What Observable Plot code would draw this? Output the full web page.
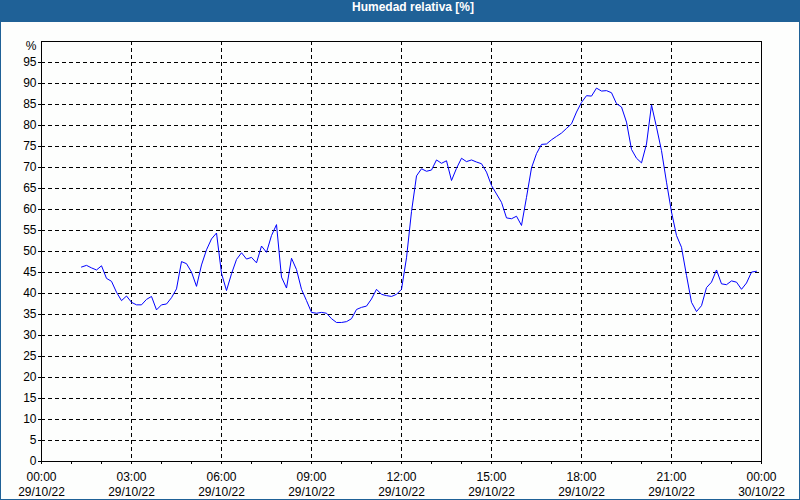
<!DOCTYPE html>
<html>
<head>
<meta charset="utf-8">
<script src="https://cdn.jsdelivr.net/npm/d3@7"></script>
<script src="https://cdn.jsdelivr.net/npm/@observablehq/plot@0.6"></script>
<style>
  html, body { margin: 0; padding: 0; background: #ffffff; }
  #wrap { width: 800px; height: 500px; box-sizing: border-box; border: 1px solid #1f6197; border-top: none; background: #fdfefd; overflow: hidden; }
  #title { height: 22px; line-height: 22px; background: #1f6197; color: #ffffff; font: bold 12px "Liberation Sans", Arial, sans-serif; text-align: center; padding-left: 26px; margin: 0 -1px; }
  #chart svg { display: block; overflow: visible; }
</style>
</head>
<body>
<div id="wrap">
  <div id="title">Humedad relativa [%]</div>
  <div id="chart"></div>
</div>
<script>
// ---- data ----
const chartTitle = "Humedad relativa [%]";
const yUnit = "%";
const startTime = "2022-10-29T01:20:00Z";   // first sample
const stepMinutes = 10;                     // sampling interval
const humidity = [
  46.3, 46.7, 46.1, 45.6, 46.6, 43.6, 42.9, 40.3, 38.3, 39.4,
  37.9, 37.3, 37.3, 38.6, 39.3, 36.1, 37.3, 37.5, 39.0, 41.1,
  47.6, 47.1, 45.1, 41.7, 46.8, 50.4, 53.0, 54.4, 44.8, 40.7,
  44.7, 48.1, 49.7, 48.2, 48.6, 47.3, 51.3, 49.8, 53.8, 56.4,
  43.9, 41.3, 48.4, 45.7, 41.0, 38.3, 35.5, 35.3, 35.5, 35.3,
  34.0, 33.1, 33.1, 33.3, 34.0, 36.2, 36.7, 37.0, 38.7, 41.0,
  39.8, 39.5, 39.3, 39.8, 41.0, 48.5, 59.5, 68.0, 69.7, 69.1,
  69.4, 71.8, 71.0, 71.6, 66.9, 69.8, 72.2, 71.4, 71.8, 71.3,
  70.9, 68.9, 65.7, 63.7, 61.7, 58.0, 57.8, 58.4, 56.2, 62.9,
  69.9, 73.3, 75.5, 75.6, 76.6, 77.4, 78.2, 79.3, 80.4, 83.2,
  85.5, 87.1, 87.0, 88.9, 88.2, 88.3, 87.8, 85.2, 84.4, 80.8,
  74.3, 72.2, 71.1, 75.6, 84.9, 79.6, 74.0, 66.5, 59.4, 53.8,
  51.0, 44.3, 37.9, 35.7, 37.1, 41.4, 42.7, 45.6, 42.3, 42.1,
  43.0, 42.7, 41.0, 42.5, 45.1, 45.3
];
const xTickTimes = ["2022-10-29T00:00:00Z","2022-10-29T03:00:00Z","2022-10-29T06:00:00Z","2022-10-29T09:00:00Z","2022-10-29T12:00:00Z","2022-10-29T15:00:00Z","2022-10-29T18:00:00Z","2022-10-29T21:00:00Z","2022-10-30T00:00:00Z"];
const xTickLabels = ["00:00\n29/10/22","03:00\n29/10/22","06:00\n29/10/22","09:00\n29/10/22","12:00\n29/10/22","15:00\n29/10/22","18:00\n29/10/22","21:00\n29/10/22","00:00\n30/10/22"];
const yTicks = [0,5,10,15,20,25,30,35,40,45,50,55,60,65,70,75,80,85,90,95];

// ---- build ----
document.getElementById("title").textContent = chartTitle;
const t0 = new Date(startTime).getTime();
const data = humidity.map((v, i) => ({ t: new Date(t0 + i * stepMinutes * 60000), v }));
const majorTicks = xTickTimes.map(s => new Date(s));
const labelOf = new Map(majorTicks.map((d, i) => [+d, xTickLabels[i]]));
const hourTicks = d3.utcHour.range(majorTicks[0], new Date(+majorTicks[majorTicks.length - 1] + 1));
const innerMajor = majorTicks.slice(1, -1);
const gridYVals = yTicks.filter(v => v > 0);

const chart = Plot.plot({
  width: 798,
  height: 477,
  marginLeft: 40,
  marginRight: 38,
  marginTop: 19,
  marginBottom: 38,
  style: { fontFamily: "'Liberation Sans', Arial, sans-serif", fontSize: "12px", background: "transparent", color: "#000" },
  x: { type: "utc", domain: [majorTicks[0], majorTicks[majorTicks.length - 1]] },
  y: { domain: [0, 100] },
  marks: [
    Plot.gridY(gridYVals, { stroke: "#000", strokeOpacity: 1, strokeDasharray: "4,3" }),
    Plot.gridX(innerMajor, { stroke: "#000", strokeOpacity: 1, strokeDasharray: "4,3" }),
    Plot.axisX(hourTicks, { tickSize: 3, text: null, stroke: "#000", label: null }),
    Plot.axisX(majorTicks, { tickSize: 0, tickPadding: 8, lineHeight: 1.3, tickFormat: d => labelOf.get(+d), fill: "#000", label: null }),
    Plot.axisY(yTicks, { tickSize: 3, tickPadding: 2, stroke: "#000", fill: "#000", label: null }),
    Plot.text([yUnit], { frameAnchor: "top-left", textAnchor: "end", lineAnchor: "middle", dx: -5, dy: 5, text: d => d, fill: "#000" }),
    Plot.line(data, { x: "t", y: "v", stroke: "#0000ff", strokeWidth: 1 }),
    Plot.frame({ stroke: "#000" })
  ]
});
document.getElementById("chart").appendChild(chart);
</script>
</body>
</html>
